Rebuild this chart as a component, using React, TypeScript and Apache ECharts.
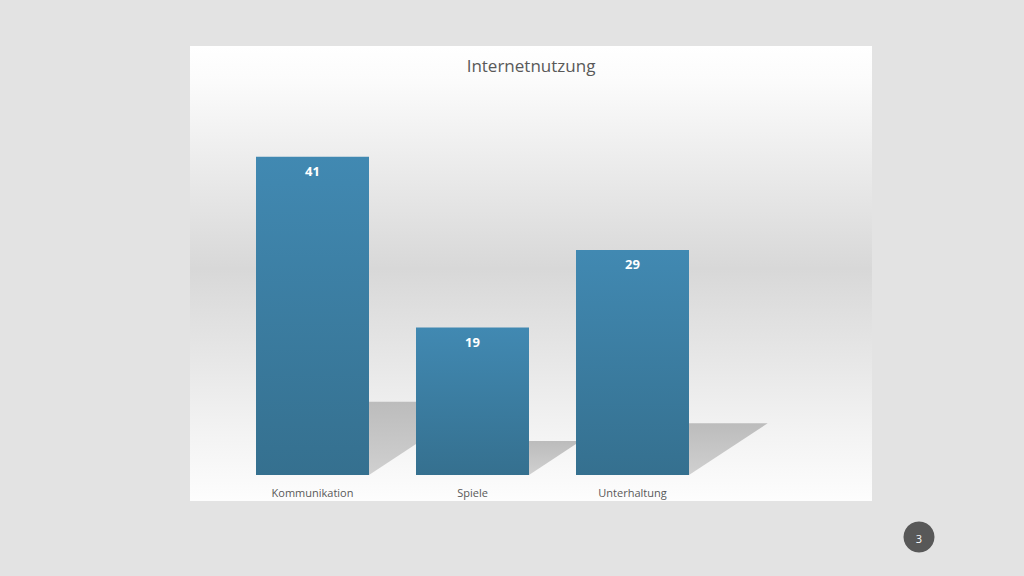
import React, { useEffect, useRef } from "react";
import * as echarts from "echarts";

const categories = ["Kommunikation", "Spiele", "Unterhaltung"];
const values = [41, 19, 29];
const titleText = "Internetnutzung";
const pageNumber = "3";

const FONT = "'Open Sans', 'Noto Sans', sans-serif";

export default function App() {
  const ref = useRef<HTMLDivElement>(null);
  useEffect(() => {
    document.body.style.margin = "0";
    if (!ref.current) return;
    const chart = echarts.init(ref.current, null, { renderer: "svg" });
    const barWidth = 113;
    const shadowH = 0.23;
    const shadowD = 1.52;
    chart.setOption({
      animation: false,
      backgroundColor: "#e3e3e3",
      textStyle: { fontFamily: FONT },
      graphic: [
        {
          type: "rect",
          z: -10,
          shape: { x: 190, y: 46, width: 682, height: 455 },
          style: {
            fill: new echarts.graphic.LinearGradient(0, 0, 0, 1, [
              { offset: 0, color: "#ffffff" },
              { offset: 0.08, color: "#fbfbfb" },
              { offset: 0.49, color: "#d8d8d8" },
              { offset: 0.85, color: "#f3f3f3" },
              { offset: 1, color: "#fdfdfd" },
            ]),
          },
        },
        {
          type: "circle",
          shape: { cx: 919, cy: 537, r: 15.5 },
          style: { fill: "#585858" },
        },
        {
          type: "text",
          x: 919,
          y: 538,
          style: {
            text: pageNumber,
            fill: "#ffffff",
            fontSize: 11,
            fontFamily: FONT,
            align: "center",
            verticalAlign: "middle",
          },
        },
      ],
      title: {
        text: titleText,
        left: 526,
        top: 52,
        textAlign: "center",
        textStyle: {
          color: "#595959",
          fontSize: 17,
          fontWeight: "normal",
          fontFamily: FONT,
        },
      },
      grid: { left: 232.5, right: 311.5, top: 87, bottom: 101 },
      xAxis: {
        type: "category",
        data: categories,
        axisLine: { show: false },
        axisTick: { show: false },
        axisLabel: { color: "#595959", fontSize: 11, margin: 12, fontFamily: FONT },
      },
      yAxis: {
        type: "value",
        min: 0,
        max: 50,
        show: false,
        splitLine: { show: false },
      },
      series: [
        {
          type: "custom",
          z: 1,
          data: values.map((v, i) => [i, v]),
          renderItem: (params: any, api: any) => {
            const x = api.value(0);
            const v = api.value(1);
            const base = api.coord([x, 0]);
            const top = api.coord([x, v]);
            const hh = (base[1] - top[1]) * shadowH;
            const d = hh * shadowD;
            const xl = base[0] - barWidth / 2;
            const xr = base[0] + barWidth / 2;
            return {
              type: "polygon",
              shape: {
                points: [
                  [xl, base[1]],
                  [xr, base[1]],
                  [xr + d, base[1] - hh],
                  [xl + d, base[1] - hh],
                ],
              },
              style: {
                fill: new echarts.graphic.LinearGradient(0, 0, 0, 1, [
                  { offset: 0, color: "#bcbcbc" },
                  { offset: 1, color: "#d0d0d0" },
                ]),
              },
            };
          },
        },
        {
          type: "bar",
          z: 3,
          data: values,
          barWidth: barWidth,
          itemStyle: {
            color: new echarts.graphic.LinearGradient(0, 0, 0, 1, [
              { offset: 0, color: "#4189b2" },
              { offset: 1, color: "#35708f" },
            ]),
          },
          label: {
            show: true,
            position: "insideTop",
            distance: 8,
            color: "#ffffff",
            fontWeight: "bold",
            fontSize: 13,
            fontFamily: FONT,
          },
        },
      ],
    });
    return () => chart.dispose();
  }, []);
  return <div ref={ref} style={{ width: 1024, height: 576 }} />;
}
